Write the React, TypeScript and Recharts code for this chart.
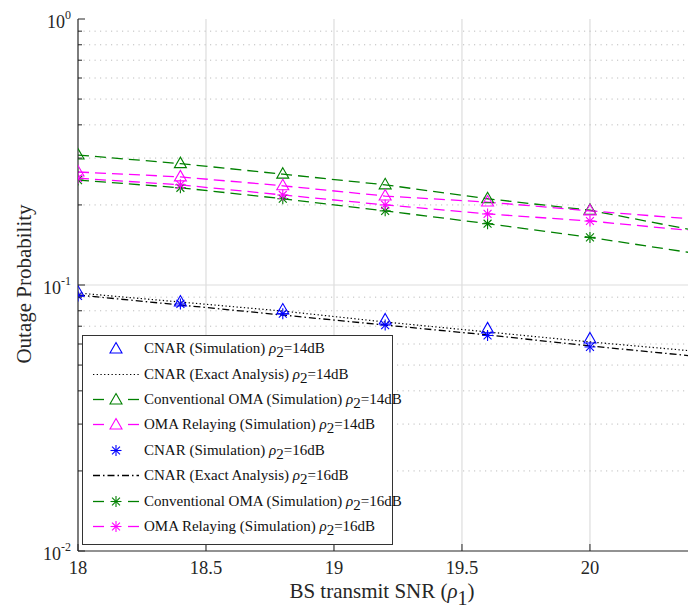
import React from 'react';
import { ComposedChart, Line, XAxis, YAxis, ReferenceLine } from 'recharts';

// ---- data ----
const snr = [18, 18.4, 18.8, 19.2, 19.6, 20, 20.4];
const cnarSim14 = [0.094, 0.0863, 0.0805, 0.0739, 0.0684, 0.0627, null];
const cnarExact14 = [0.0933, 0.0863, 0.0798, 0.0726, 0.0666, 0.0611, 0.0565];
const convOma14 = [0.308, 0.286, 0.261, 0.238, 0.211, 0.191, 0.161];
const omaRelay14 = [0.266, 0.255, 0.236, 0.216, 0.205, 0.19, 0.177];
const cnarSim16 = [0.091, 0.0849, 0.078, 0.0707, 0.0646, 0.0585, null];
const cnarExact16 = [0.0917, 0.0841, 0.0771, 0.0707, 0.0649, 0.059, 0.0541];
const convOma16 = [0.248, 0.232, 0.211, 0.19, 0.17, 0.151, 0.132];
const omaRelay16 = [0.252, 0.238, 0.218, 0.2, 0.185, 0.174, 0.16];

const xTicks = [18, 18.5, 19, 19.5, 20];
const xDomain: [number, number] = [18, 20.383];
const yDomain: [number, number] = [0.01, 1];
const yMajor = [0.01, 0.1, 1];
const yMinor = [0.02, 0.03, 0.04, 0.05, 0.06, 0.07, 0.08, 0.09, 0.2, 0.3, 0.4, 0.5, 0.6, 0.7, 0.8, 0.9];
const yTicks = [...yMajor, ...yMinor].sort((a, b) => a - b);

const legendItems = [
  { label: 'CNAR (Simulation) ', tail: '=14dB', color: '#0000ff', line: 'none', marker: 'tri' },
  { label: 'CNAR (Exact Analysis) ', tail: '=14dB', color: '#000000', line: 'dot', marker: 'none' },
  { label: 'Conventional OMA (Simulation) ', tail: '=14dB', color: '#008000', line: 'dash', marker: 'tri' },
  { label: 'OMA Relaying (Simulation) ', tail: '=14dB', color: '#ff00ff', line: 'dash', marker: 'tri' },
  { label: 'CNAR (Simulation) ', tail: '=16dB', color: '#0000ff', line: 'none', marker: 'star' },
  { label: 'CNAR (Exact Analysis) ', tail: '=16dB', color: '#000000', line: 'dashdot', marker: 'none' },
  { label: 'Conventional OMA (Simulation) ', tail: '=16dB', color: '#008000', line: 'dash', marker: 'star' },
  { label: 'OMA Relaying (Simulation) ', tail: '=16dB', color: '#ff00ff', line: 'dash', marker: 'star' },
];

const data = snr.map((x, i) => ({
  x,
  cnarSim14: cnarSim14[i],
  cnarExact14: cnarExact14[i],
  convOma14: convOma14[i],
  omaRelay14: omaRelay14[i],
  cnarSim16: cnarSim16[i],
  cnarExact16: cnarExact16[i],
  convOma16: convOma16[i],
  omaRelay16: omaRelay16[i],
}));

const FONT = '"Liberation Serif", "Times New Roman", Times, serif';
const AXIS = '#262626';
const DASH = '11 6';
const DOTTED = '1.3 2.4';
const DASHDOT = '7 3 1.5 3';

function Tri({ cx, cy, color }: { cx: number; cy: number; color: string }) {
  return (
    <polygon
      points={`${cx},${cy - 6.5} ${cx + 6},${cy + 4} ${cx - 6},${cy + 4}`}
      fill="none"
      stroke={color}
      strokeWidth={1.1}
    />
  );
}

function Star({ cx, cy, color }: { cx: number; cy: number; color: string }) {
  const r = 5.5;
  const d = r * 0.72;
  return (
    <g stroke={color} strokeWidth={1.1}>
      <line x1={cx} y1={cy - r} x2={cx} y2={cy + r} />
      <line x1={cx - r} y1={cy} x2={cx + r} y2={cy} />
      <line x1={cx - d} y1={cy - d} x2={cx + d} y2={cy + d} />
      <line x1={cx - d} y1={cy + d} x2={cx + d} y2={cy - d} />
    </g>
  );
}

const makeDot = (kind: 'tri' | 'star', color: string) => (props: any) => {
  const { cx, cy, payload, index } = props;
  if (cx == null || cy == null || payload == null || payload.x > xDomain[1] || isNaN(cy)) {
    return <g key={`d${index}`} />;
  }
  return kind === 'tri' ? (
    <Tri key={`d${index}`} cx={cx} cy={cy} color={color} />
  ) : (
    <Star key={`d${index}`} cx={cx} cy={cy} color={color} />
  );
};

function YTick(props: any) {
  const { x, y, payload } = props;
  const v = payload.value;
  const exp = Math.round(Math.log10(v));
  const major = Math.abs(v - Math.pow(10, exp)) < 1e-9;
  return (
    <g>
      <line x1={x} x2={x + (major ? 7 : 4)} y1={y} y2={y} stroke={AXIS} strokeWidth={1} />
      {major && (
        <text x={x - 7} y={y + 9} textAnchor="end" fontFamily={FONT} fontSize={18} fill="#262626">
          10
          <tspan dy={-9} fontSize={12}>
            {String(exp)}
          </tspan>
        </text>
      )}
    </g>
  );
}

function XTick(props: any) {
  const { x, y, payload } = props;
  return (
    <g>
      <line x1={x} x2={x} y1={y} y2={y - 7} stroke={AXIS} strokeWidth={1} />
      <text x={x} y={y + 23} textAnchor="middle" fontFamily={FONT} fontSize={18.5} fill="#262626">
        {payload.value}
      </text>
    </g>
  );
}

function TopTick(props: any) {
  const { x, y } = props;
  return <line x1={x} x2={x} y1={y} y2={y + 7} stroke={AXIS} strokeWidth={1} />;
}

function LegendIcon({ item }: { item: (typeof legendItems)[number] }) {
  const w = 50;
  const cy = 6.5;
  const cx = 25;
  let line: React.ReactNode = null;
  if (item.line === 'dash') {
    line = (
      <g stroke={item.color} strokeWidth={1.3}>
        <line x1={2} x2={13} y1={cy} y2={cy} />
        <line x1={37} x2={48} y1={cy} y2={cy} />
      </g>
    );
  } else if (item.line === 'dot') {
    line = <line x1={2} x2={48} y1={cy} y2={cy} stroke={item.color} strokeWidth={1.2} strokeDasharray={DOTTED} />;
  } else if (item.line === 'dashdot') {
    line = <line x1={2} x2={48} y1={cy} y2={cy} stroke={item.color} strokeWidth={1.3} strokeDasharray={DASHDOT} />;
  }
  return (
    <svg width={w} height={13} style={{ display: 'block', overflow: 'visible' }}>
      {line}
      {item.marker === 'tri' && <Tri cx={cx} cy={cy + 0.5} color={item.color} />}
      {item.marker === 'star' && <Star cx={cx} cy={cy} color={item.color} />}
    </svg>
  );
}

function LegendBox() {
  return (
    <div
      style={{
        position: 'absolute',
        left: 82,
        top: 335,
        width: 311,
        height: 210,
        border: '1px solid #333',
        background: '#fff',
        boxSizing: 'border-box',
        fontFamily: FONT,
        fontSize: 15,
        color: '#111',
        paddingTop: 0,
      }}
    >
      {legendItems.map((it, i) => (
        <div key={i} style={{ display: 'flex', alignItems: 'center', height: 25.4, paddingLeft: 8 }}>
          <LegendIcon item={it} />
          <span style={{ marginLeft: 3, whiteSpace: 'nowrap' }}>
            {it.label}
            <i>ρ</i>
            <sub style={{ fontSize: 15, verticalAlign: '-4px', lineHeight: 0 }}>2</sub>
            {it.tail}
          </span>
        </div>
      ))}
    </div>
  );
}

export default function App() {
  const grid = '#dddddd';
  const minor = '#bdbdbd';
  return (
    <div style={{ position: 'absolute', left: 0, top: 0, width: 688, height: 610, background: '#fff' }}>
      <ComposedChart
        width={688}
        height={610}
        data={data}
        margin={{ top: 19, right: 0, bottom: 0, left: 0 }}
      >
        <XAxis
          xAxisId="bottom"
          dataKey="x"
          type="number"
          domain={xDomain}
          allowDataOverflow
          ticks={xTicks}
          interval={0}
          height={59}
          tickSize={0}
          tickMargin={0}
          tickLine={false}
          axisLine={{ stroke: AXIS, strokeWidth: 1.2 }}
          tick={(p: any) => <XTick {...p} />}
        />
        <XAxis
          xAxisId="top"
          orientation="top"
          dataKey="x"
          type="number"
          domain={xDomain}
          allowDataOverflow
          ticks={xTicks}
          interval={0}
          height={0}
          tickSize={0}
          tickMargin={0}
          tickLine={false}
          axisLine={{ stroke: AXIS, strokeWidth: 1.2 }}
          tick={(p: any) => <TopTick {...p} />}
        />
        <YAxis
          yAxisId="y"
          scale="log"
          type="number"
          domain={yDomain}
          allowDataOverflow
          ticks={yTicks}
          interval={0}
          width={78}
          tickSize={0}
          tickMargin={0}
          tickLine={false}
          axisLine={{ stroke: AXIS, strokeWidth: 1.2 }}
          tick={(p: any) => <YTick {...p} />}
        />

        {xTicks.slice(1).map((v) => (
          <ReferenceLine key={`vx${v}`} xAxisId="bottom" yAxisId="y" x={v} stroke={grid} strokeWidth={1.2} />
        ))}
        <ReferenceLine xAxisId="bottom" yAxisId="y" y={0.1} stroke={grid} strokeWidth={1.2} />
        {yMinor.map((v) => (
          <ReferenceLine
            key={`my${v}`}
            xAxisId="bottom"
            yAxisId="y"
            y={v}
            stroke={minor}
            strokeWidth={1}
            strokeDasharray="1.2 4.3"
          />
        ))}

        <Line xAxisId="bottom" yAxisId="y" dataKey="cnarExact14" stroke="#000" strokeWidth={1.2} strokeDasharray={DOTTED} dot={false} isAnimationActive={false} />
        <Line xAxisId="bottom" yAxisId="y" dataKey="cnarExact16" stroke="#000" strokeWidth={1.3} strokeDasharray={DASHDOT} dot={false} isAnimationActive={false} />
        <Line xAxisId="bottom" yAxisId="y" dataKey="convOma14" stroke="#008000" strokeWidth={1.3} strokeDasharray={DASH} dot={makeDot('tri', '#008000')} isAnimationActive={false} />
        <Line xAxisId="bottom" yAxisId="y" dataKey="omaRelay14" stroke="#ff00ff" strokeWidth={1.3} strokeDasharray={DASH} dot={makeDot('tri', '#ff00ff')} isAnimationActive={false} />
        <Line xAxisId="bottom" yAxisId="y" dataKey="convOma16" stroke="#008000" strokeWidth={1.3} strokeDasharray={DASH} dot={makeDot('star', '#008000')} isAnimationActive={false} />
        <Line xAxisId="bottom" yAxisId="y" dataKey="omaRelay16" stroke="#ff00ff" strokeWidth={1.3} strokeDasharray={DASH} dot={makeDot('star', '#ff00ff')} isAnimationActive={false} />
        <Line xAxisId="bottom" yAxisId="y" dataKey="cnarSim14" stroke="none" dot={makeDot('tri', '#0000ff')} isAnimationActive={false} />
        <Line xAxisId="bottom" yAxisId="y" dataKey="cnarSim16" stroke="none" dot={makeDot('star', '#0000ff')} isAnimationActive={false} />
      </ComposedChart>

      <svg width={688} height={610} style={{ position: 'absolute', left: 0, top: 0, pointerEvents: 'none' }}>
        <text
          x={31}
          y={284}
          transform="rotate(-90, 31, 284)"
          textAnchor="middle"
          fontFamily={FONT}
          fontSize={21}
          fill="#262626"
        >
          Outage Probability
        </text>
        <text x={382} y={598} textAnchor="middle" fontFamily={FONT} fontSize={21} fill="#262626">
          BS transmit SNR (<tspan fontStyle="italic">ρ</tspan>
          <tspan dy={7} fontSize={20}>1</tspan>
          <tspan dy={-7}>)</tspan>
        </text>
      </svg>

      <LegendBox />
    </div>
  );
}
